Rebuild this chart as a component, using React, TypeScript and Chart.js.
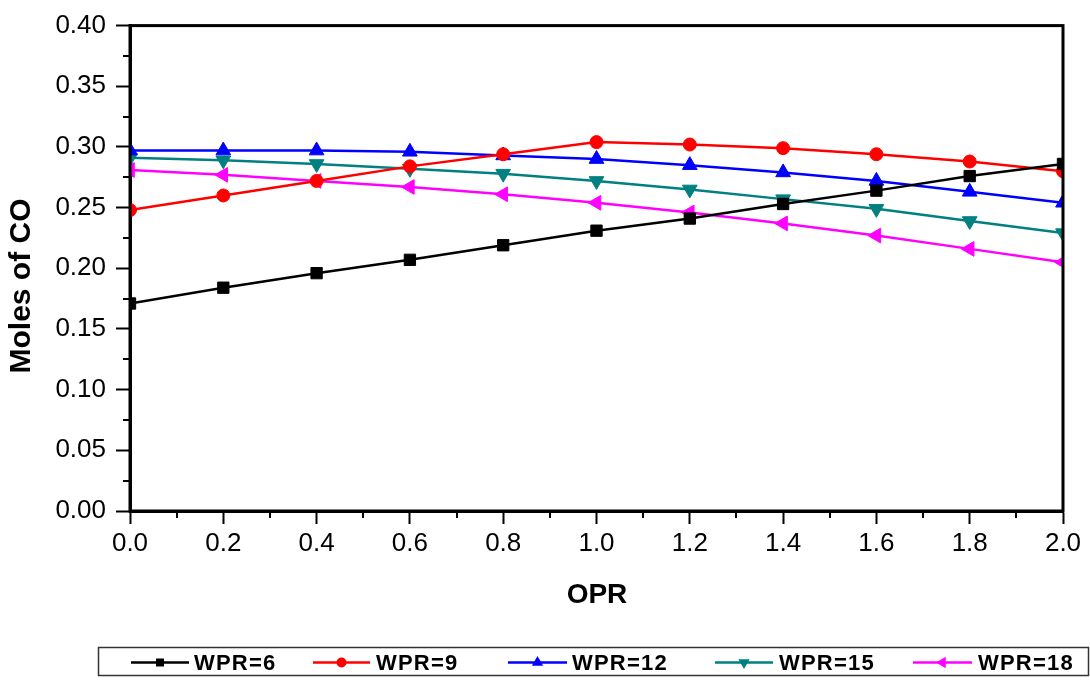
import React, { useEffect, useRef } from "react";
import { Chart, registerables } from "chart.js";

Chart.register(...registerables);

// OPR values on the x axis
const opr = [0, 0.2, 0.4, 0.6, 0.8, 1.0, 1.2, 1.4, 1.6, 1.8, 2.0];

// Moles of CO for each WPR
const wpr6 = [0.171, 0.184, 0.196, 0.207, 0.219, 0.231, 0.241, 0.253, 0.264, 0.276, 0.286];
const wpr9 = [0.248, 0.260, 0.272, 0.284, 0.294, 0.304, 0.302, 0.299, 0.294, 0.288, 0.280];
const wpr12 = [0.297, 0.297, 0.297, 0.296, 0.293, 0.290, 0.285, 0.279, 0.272, 0.263, 0.254];
const wpr15 = [0.291, 0.289, 0.286, 0.282, 0.278, 0.272, 0.265, 0.257, 0.249, 0.239, 0.229];
const wpr18 = [0.281, 0.277, 0.272, 0.267, 0.261, 0.254, 0.246, 0.237, 0.227, 0.216, 0.205];

const seriesLabels = ["WPR=6", "WPR=9", "WPR=12", "WPR=15", "WPR=18"];
const seriesValues = [wpr6, wpr9, wpr12, wpr15, wpr18];
const seriesColors = ["#000000", "#ff0000", "#0000ff", "#008080", "#ff00ff"];

const xTitle = "OPR";
const yTitle = "Moles of CO";

const FONT = "'Liberation Sans', Arial, sans-serif";

type Marker = { style: string; radius: number; rotation: number };
const markers: Marker[] = [
  { style: "rect", radius: 8, rotation: 0 },
  { style: "circle", radius: 6.5, rotation: 0 },
  { style: "triangle", radius: 8.5, rotation: 0 },
  { style: "triangle", radius: 8.5, rotation: 180 },
  { style: "triangle", radius: 8.5, rotation: 270 },
];

// legend layout: [line start, line end, text start]
const legendSlots = [
  [131, 189, 194],
  [313, 370, 376],
  [508, 567, 572],
  [715, 773, 779],
  [913, 972, 978],
];

function drawLegendMarker(ctx: CanvasRenderingContext2D, i: number, x: number, y: number) {
  ctx.fillStyle = seriesColors[i];
  ctx.beginPath();
  if (i === 0) {
    ctx.rect(x - 4, y - 4, 8, 8);
  } else if (i === 1) {
    ctx.arc(x, y, 5, 0, Math.PI * 2);
  } else {
    const r = 6.5;
    const rot = (markers[i].rotation * Math.PI) / 180;
    for (let k = 0; k < 3; k++) {
      const a = rot - Math.PI / 2 + (k * 2 * Math.PI) / 3;
      const px = x + r * Math.cos(a);
      const py = y + r * Math.sin(a);
      if (k === 0) ctx.moveTo(px, py);
      else ctx.lineTo(px, py);
    }
    ctx.closePath();
  }
  ctx.fill();
}

const decorPlugin = {
  id: "decor",
  afterDatasetsDraw(chart: any) {
    const { ctx, chartArea, scales } = chart;
    const { left, right, top, bottom } = chartArea;
    ctx.save();
    // frame
    ctx.strokeStyle = "#000";
    ctx.lineWidth = 3;
    ctx.strokeRect(left, top, right - left, bottom - top);

    // minor ticks
    ctx.lineWidth = 2;
    ctx.beginPath();
    for (let v = 0.1; v < 2; v += 0.2) {
      const px = Math.round(scales.x.getPixelForValue(v));
      ctx.moveTo(px, bottom);
      ctx.lineTo(px, bottom + 7);
    }
    for (let v = 0.025; v < 0.4; v += 0.05) {
      const py = Math.round(scales.y.getPixelForValue(v));
      ctx.moveTo(left, py);
      ctx.lineTo(left - 7, py);
    }
    ctx.stroke();
    ctx.restore();
  },
  afterDraw(chart: any) {
    const { ctx } = chart;
    ctx.save();
    // axis titles
    ctx.fillStyle = "#000";
    ctx.textAlign = "center";
    ctx.textBaseline = "middle";
    ctx.font = `bold 28px ${FONT}`;
    ctx.fillText(xTitle, 597, 595);
    ctx.translate(22, 286);
    ctx.rotate(-Math.PI / 2);
    ctx.font = `bold 30px ${FONT}`;
    ctx.fillText(yTitle, 0, 0);
    ctx.restore();

    // legend
    ctx.save();
    ctx.strokeStyle = "#333";
    ctx.lineWidth = 1.5;
    ctx.strokeRect(98.5, 647.5, 990, 28);
    const ly = 662.5;
    seriesLabels.forEach((label, i) => {
      const [x0, x1, tx] = legendSlots[i];
      ctx.strokeStyle = seriesColors[i];
      ctx.lineWidth = 2.5;
      ctx.beginPath();
      ctx.moveTo(x0, ly);
      ctx.lineTo(x1, ly);
      ctx.stroke();
      drawLegendMarker(ctx, i, (x0 + x1) / 2, ly);
      ctx.fillStyle = "#000";
      ctx.font = `bold 22px ${FONT}`;
      (ctx as any).letterSpacing = "1.2px";
      ctx.textAlign = "left";
      ctx.textBaseline = "middle";
      ctx.fillText(label, tx, ly + 1);
      (ctx as any).letterSpacing = "0px";
    });
    ctx.restore();
  },
};

export default function App() {
  const canvasRef = useRef<HTMLCanvasElement | null>(null);

  useEffect(() => {
    const canvas = canvasRef.current;
    if (!canvas) return;
    const chart = new Chart(canvas, {
      type: "line",
      data: {
        datasets: seriesLabels.map((label, i) => ({
          label,
          data: opr.map((x, j) => ({ x, y: seriesValues[i][j] })),
          borderColor: seriesColors[i],
          backgroundColor: seriesColors[i],
          borderWidth: 2.5,
          pointStyle: markers[i].style as any,
          pointRadius: markers[i].radius,
          pointRotation: markers[i].rotation,
          pointBorderWidth: 1,
          pointBorderColor: seriesColors[i],
          pointBackgroundColor: seriesColors[i],
          tension: 0,
          fill: false,
          clip: 0,
        })),
      },
      options: {
        responsive: false,
        animation: false,
        devicePixelRatio: 1,
        layout: { padding: { left: 0, right: 27, top: 21, bottom: 0 } },
        plugins: {
          legend: { display: false },
          tooltip: { enabled: false },
        },
        scales: {
          x: {
            type: "linear",
            min: 0,
            max: 2,
            afterFit: (s: any) => {
              s.height = 169;
            },
            ticks: {
              stepSize: 0.2,
              color: "#000",
              padding: 4,
              maxRotation: 0,
              font: { family: FONT, size: 26 },
              callback: (v: any) => Number(v).toFixed(1),
            },
            grid: {
              drawOnChartArea: false,
              drawTicks: true,
              tickLength: 13,
              tickColor: "#000",
              tickWidth: 2,
            },
            border: { color: "#000", width: 3 },
          },
          y: {
            type: "linear",
            min: 0,
            max: 0.4,
            afterFit: (s: any) => {
              s.width = 130;
            },
            ticks: {
              stepSize: 0.05,
              color: "#000",
              padding: 10,
              font: { family: FONT, size: 26 },
              callback: (v: any) => Number(v).toFixed(2),
            },
            grid: {
              drawOnChartArea: false,
              drawTicks: true,
              tickLength: 14,
              tickColor: "#000",
              tickWidth: 2,
            },
            border: { color: "#000", width: 3 },
          },
        },
      },
      plugins: [decorPlugin],
    });
    return () => chart.destroy();
  }, []);

  return (
    <div style={{ position: "absolute", left: 0, top: 0, width: 1090, height: 680, background: "#fff" }}>
      <canvas ref={canvasRef} width={1090} height={680} />
    </div>
  );
}
